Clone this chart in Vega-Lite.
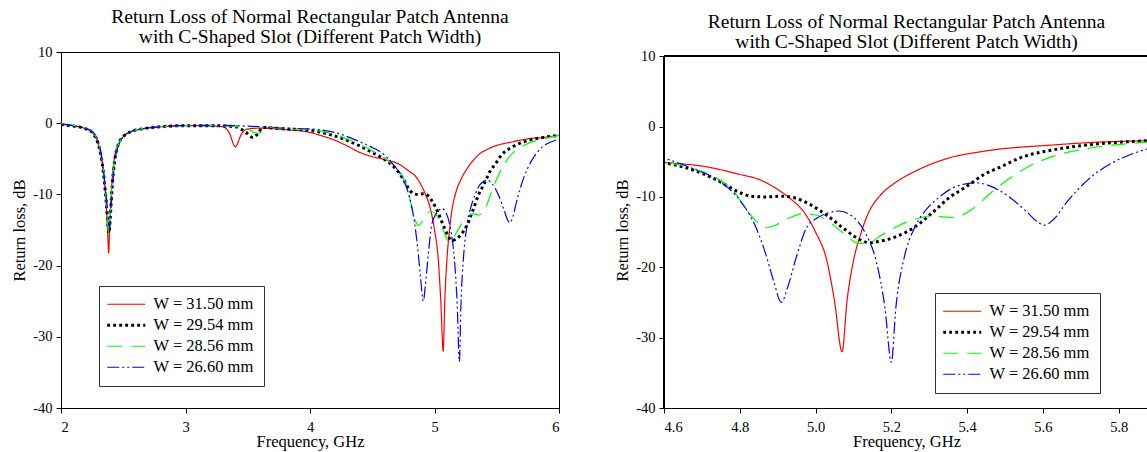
{
"$schema": "https://vega.github.io/schema/vega-lite/v6.json",
"padding": {"left": 11, "top": 6, "right": 0, "bottom": 0},
"background": "white",
"spacing": 54,
"config": {
  "font": "Liberation Serif",
  "view": {"stroke": "#000", "strokeWidth": 1},
  "style": {"guide-label": {"font": "Liberation Serif"}, "guide-title": {"font": "Liberation Serif"}},
  "axis": {"labelFont": "Liberation Serif", "labelFontSize": 14.5, "labelColor": "#000", "titleFont": "Liberation Serif", "titleFontSize": 16.5, "titleFontWeight": "normal", "titleColor": "#000", "domainColor": "#000", "tickColor": "#000", "tickSize": 5, "grid": false},
  "axisX": {"labelPadding": 7, "titlePadding": 0, "labelAngle": 0},
  "axisY": {"labelPadding": 4, "titlePadding": 5},
  "legend": {"labelFont": "Liberation Serif", "labelFontSize": 16.5, "labelColor": "#000", "strokeColor": "#333", "fillColor": "white", "padding": 10, "rowPadding": 4, "symbolType": "stroke", "symbolSize": 1444, "symbolOffset": 9, "labelOffset": 19, "labelLimit": 300, "title": null},
  "title": {"font": "Liberation Serif", "fontSize": 19.5, "fontWeight": "normal", "color": "#000", "lineHeight": 20, "anchor": "middle"}
},
"datasets": {"d": [
{"f":2.0,"r":-0.1,"s":"W = 31.50 mm"},{"f":2.1,"r":-0.35,"s":"W = 31.50 mm"},{"f":2.2,"r":-0.8,"s":"W = 31.50 mm"},{"f":2.26,"r":-1.5,"s":"W = 31.50 mm"},{"f":2.3,"r":-3.0,"s":"W = 31.50 mm"},{"f":2.33,"r":-5.5,"s":"W = 31.50 mm"},{"f":2.35,"r":-8.5,"s":"W = 31.50 mm"},{"f":2.365,"r":-12,"s":"W = 31.50 mm"},{"f":2.375,"r":-15.5,"s":"W = 31.50 mm"},{"f":2.383,"r":-18.2,"s":"W = 31.50 mm"},{"f":2.39,"r":-15,"s":"W = 31.50 mm"},{"f":2.4,"r":-11,"s":"W = 31.50 mm"},{"f":2.415,"r":-7,"s":"W = 31.50 mm"},{"f":2.43,"r":-4.8,"s":"W = 31.50 mm"},{"f":2.46,"r":-3.0,"s":"W = 31.50 mm"},{"f":2.5,"r":-1.9,"s":"W = 31.50 mm"},{"f":2.56,"r":-1.2,"s":"W = 31.50 mm"},{"f":2.65,"r":-0.8,"s":"W = 31.50 mm"},{"f":2.8,"r":-0.5,"s":"W = 31.50 mm"},{"f":3.0,"r":-0.35,"s":"W = 31.50 mm"},{"f":3.2,"r":-0.4,"s":"W = 31.50 mm"},{"f":3.3,"r":-0.5,"s":"W = 31.50 mm"},{"f":3.35,"r":-1.3,"s":"W = 31.50 mm"},{"f":3.4,"r":-3.3,"s":"W = 31.50 mm"},{"f":3.45,"r":-1.5,"s":"W = 31.50 mm"},{"f":3.5,"r":-0.8,"s":"W = 31.50 mm"},{"f":3.6,"r":-0.7,"s":"W = 31.50 mm"},{"f":3.8,"r":-0.9,"s":"W = 31.50 mm"},{"f":4.0,"r":-1.3,"s":"W = 31.50 mm"},{"f":4.1,"r":-1.8,"s":"W = 31.50 mm"},{"f":4.2,"r":-2.4,"s":"W = 31.50 mm"},{"f":4.3,"r":-3.2,"s":"W = 31.50 mm"},{"f":4.4,"r":-4.1,"s":"W = 31.50 mm"},{"f":4.5,"r":-4.7,"s":"W = 31.50 mm"},{"f":4.6,"r":-5.1,"s":"W = 31.50 mm"},{"f":4.71,"r":-5.7,"s":"W = 31.50 mm"},{"f":4.8,"r":-6.8,"s":"W = 31.50 mm"},{"f":4.85,"r":-7.5,"s":"W = 31.50 mm"},{"f":4.89,"r":-8.6,"s":"W = 31.50 mm"},{"f":4.93,"r":-10.1,"s":"W = 31.50 mm"},{"f":4.967,"r":-12,"s":"W = 31.50 mm"},{"f":5.0,"r":-15,"s":"W = 31.50 mm"},{"f":5.03,"r":-19.1,"s":"W = 31.50 mm"},{"f":5.05,"r":-24.8,"s":"W = 31.50 mm"},{"f":5.07,"r":-32,"s":"W = 31.50 mm"},{"f":5.083,"r":-24.8,"s":"W = 31.50 mm"},{"f":5.1,"r":-19.1,"s":"W = 31.50 mm"},{"f":5.119,"r":-15.3,"s":"W = 31.50 mm"},{"f":5.142,"r":-12,"s":"W = 31.50 mm"},{"f":5.169,"r":-9.9,"s":"W = 31.50 mm"},{"f":5.215,"r":-7.8,"s":"W = 31.50 mm"},{"f":5.261,"r":-6.4,"s":"W = 31.50 mm"},{"f":5.35,"r":-4.5,"s":"W = 31.50 mm"},{"f":5.445,"r":-3.5,"s":"W = 31.50 mm"},{"f":5.63,"r":-2.6,"s":"W = 31.50 mm"},{"f":5.75,"r":-2.2,"s":"W = 31.50 mm"},{"f":5.875,"r":-2.0,"s":"W = 31.50 mm"},{"f":6.0,"r":-1.7,"s":"W = 31.50 mm"},
{"f":2.0,"r":-0.2,"s":"W = 29.54 mm"},{"f":2.1,"r":-0.4,"s":"W = 29.54 mm"},{"f":2.2,"r":-0.8,"s":"W = 29.54 mm"},{"f":2.26,"r":-1.5,"s":"W = 29.54 mm"},{"f":2.3,"r":-3.0,"s":"W = 29.54 mm"},{"f":2.33,"r":-5.5,"s":"W = 29.54 mm"},{"f":2.35,"r":-8.5,"s":"W = 29.54 mm"},{"f":2.365,"r":-11.5,"s":"W = 29.54 mm"},{"f":2.378,"r":-14.5,"s":"W = 29.54 mm"},{"f":2.386,"r":-15.4,"s":"W = 29.54 mm"},{"f":2.395,"r":-13.5,"s":"W = 29.54 mm"},{"f":2.405,"r":-10.5,"s":"W = 29.54 mm"},{"f":2.42,"r":-7,"s":"W = 29.54 mm"},{"f":2.435,"r":-4.8,"s":"W = 29.54 mm"},{"f":2.46,"r":-3.0,"s":"W = 29.54 mm"},{"f":2.5,"r":-1.9,"s":"W = 29.54 mm"},{"f":2.56,"r":-1.2,"s":"W = 29.54 mm"},{"f":2.65,"r":-0.8,"s":"W = 29.54 mm"},{"f":2.8,"r":-0.5,"s":"W = 29.54 mm"},{"f":3.0,"r":-0.35,"s":"W = 29.54 mm"},{"f":3.2,"r":-0.35,"s":"W = 29.54 mm"},{"f":3.4,"r":-0.5,"s":"W = 29.54 mm"},{"f":3.48,"r":-1.2,"s":"W = 29.54 mm"},{"f":3.54,"r":-2.0,"s":"W = 29.54 mm"},{"f":3.58,"r":-1.5,"s":"W = 29.54 mm"},{"f":3.62,"r":-0.6,"s":"W = 29.54 mm"},{"f":3.8,"r":-0.8,"s":"W = 29.54 mm"},{"f":4.0,"r":-1.0,"s":"W = 29.54 mm"},{"f":4.2,"r":-1.8,"s":"W = 29.54 mm"},{"f":4.4,"r":-3.2,"s":"W = 29.54 mm"},{"f":4.5,"r":-4.1,"s":"W = 29.54 mm"},{"f":4.6,"r":-5.1,"s":"W = 29.54 mm"},{"f":4.673,"r":-6.1,"s":"W = 29.54 mm"},{"f":4.747,"r":-7.8,"s":"W = 29.54 mm"},{"f":4.793,"r":-9.2,"s":"W = 29.54 mm"},{"f":4.83,"r":-9.9,"s":"W = 29.54 mm"},{"f":4.866,"r":-10,"s":"W = 29.54 mm"},{"f":4.912,"r":-9.9,"s":"W = 29.54 mm"},{"f":4.949,"r":-10.2,"s":"W = 29.54 mm"},{"f":4.986,"r":-11.1,"s":"W = 29.54 mm"},{"f":5.032,"r":-12.7,"s":"W = 29.54 mm"},{"f":5.077,"r":-14.6,"s":"W = 29.54 mm"},{"f":5.114,"r":-16.0,"s":"W = 29.54 mm"},{"f":5.142,"r":-16.5,"s":"W = 29.54 mm"},{"f":5.169,"r":-16.3,"s":"W = 29.54 mm"},{"f":5.215,"r":-15.6,"s":"W = 29.54 mm"},{"f":5.261,"r":-14.3,"s":"W = 29.54 mm"},{"f":5.307,"r":-12.3,"s":"W = 29.54 mm"},{"f":5.353,"r":-10.1,"s":"W = 29.54 mm"},{"f":5.399,"r":-8.5,"s":"W = 29.54 mm"},{"f":5.445,"r":-6.8,"s":"W = 29.54 mm"},{"f":5.49,"r":-5.7,"s":"W = 29.54 mm"},{"f":5.537,"r":-4.5,"s":"W = 29.54 mm"},{"f":5.628,"r":-3.3,"s":"W = 29.54 mm"},{"f":5.72,"r":-2.6,"s":"W = 29.54 mm"},{"f":5.875,"r":-2.0,"s":"W = 29.54 mm"},{"f":6.0,"r":-1.7,"s":"W = 29.54 mm"},
{"f":2.0,"r":-0.1,"s":"W = 28.56 mm"},{"f":2.1,"r":-0.3,"s":"W = 28.56 mm"},{"f":2.2,"r":-0.7,"s":"W = 28.56 mm"},{"f":2.26,"r":-1.4,"s":"W = 28.56 mm"},{"f":2.3,"r":-2.8,"s":"W = 28.56 mm"},{"f":2.33,"r":-5.2,"s":"W = 28.56 mm"},{"f":2.35,"r":-8.2,"s":"W = 28.56 mm"},{"f":2.365,"r":-11.5,"s":"W = 28.56 mm"},{"f":2.375,"r":-14.2,"s":"W = 28.56 mm"},{"f":2.382,"r":-15.3,"s":"W = 28.56 mm"},{"f":2.39,"r":-14.2,"s":"W = 28.56 mm"},{"f":2.4,"r":-11.5,"s":"W = 28.56 mm"},{"f":2.415,"r":-7.5,"s":"W = 28.56 mm"},{"f":2.43,"r":-5,"s":"W = 28.56 mm"},{"f":2.46,"r":-3.0,"s":"W = 28.56 mm"},{"f":2.5,"r":-1.9,"s":"W = 28.56 mm"},{"f":2.56,"r":-1.2,"s":"W = 28.56 mm"},{"f":2.65,"r":-0.8,"s":"W = 28.56 mm"},{"f":2.8,"r":-0.5,"s":"W = 28.56 mm"},{"f":3.0,"r":-0.35,"s":"W = 28.56 mm"},{"f":3.2,"r":-0.35,"s":"W = 28.56 mm"},{"f":3.45,"r":-0.5,"s":"W = 28.56 mm"},{"f":3.5,"r":-0.8,"s":"W = 28.56 mm"},{"f":3.57,"r":-1.4,"s":"W = 28.56 mm"},{"f":3.62,"r":-1.2,"s":"W = 28.56 mm"},{"f":3.66,"r":-0.6,"s":"W = 28.56 mm"},{"f":3.8,"r":-0.8,"s":"W = 28.56 mm"},{"f":4.0,"r":-0.9,"s":"W = 28.56 mm"},{"f":4.2,"r":-1.6,"s":"W = 28.56 mm"},{"f":4.4,"r":-3.0,"s":"W = 28.56 mm"},{"f":4.5,"r":-3.9,"s":"W = 28.56 mm"},{"f":4.6,"r":-5.0,"s":"W = 28.56 mm"},{"f":4.673,"r":-5.9,"s":"W = 28.56 mm"},{"f":4.738,"r":-7.3,"s":"W = 28.56 mm"},{"f":4.784,"r":-9.2,"s":"W = 28.56 mm"},{"f":4.82,"r":-12,"s":"W = 28.56 mm"},{"f":4.848,"r":-13.7,"s":"W = 28.56 mm"},{"f":4.866,"r":-14.4,"s":"W = 28.56 mm"},{"f":4.894,"r":-14,"s":"W = 28.56 mm"},{"f":4.93,"r":-13,"s":"W = 28.56 mm"},{"f":4.967,"r":-12.4,"s":"W = 28.56 mm"},{"f":4.995,"r":-12.5,"s":"W = 28.56 mm"},{"f":5.032,"r":-13.4,"s":"W = 28.56 mm"},{"f":5.077,"r":-15.3,"s":"W = 28.56 mm"},{"f":5.114,"r":-16.6,"s":"W = 28.56 mm"},{"f":5.142,"r":-16.5,"s":"W = 28.56 mm"},{"f":5.169,"r":-15.6,"s":"W = 28.56 mm"},{"f":5.215,"r":-14.2,"s":"W = 28.56 mm"},{"f":5.261,"r":-13.2,"s":"W = 28.56 mm"},{"f":5.307,"r":-12.7,"s":"W = 28.56 mm"},{"f":5.353,"r":-12.9,"s":"W = 28.56 mm"},{"f":5.38,"r":-12.7,"s":"W = 28.56 mm"},{"f":5.417,"r":-11.6,"s":"W = 28.56 mm"},{"f":5.463,"r":-9.4,"s":"W = 28.56 mm"},{"f":5.509,"r":-7.5,"s":"W = 28.56 mm"},{"f":5.555,"r":-5.9,"s":"W = 28.56 mm"},{"f":5.628,"r":-4.2,"s":"W = 28.56 mm"},{"f":5.72,"r":-3.1,"s":"W = 28.56 mm"},{"f":5.875,"r":-2.2,"s":"W = 28.56 mm"},{"f":6.0,"r":-1.7,"s":"W = 28.56 mm"},
{"f":2.0,"r":-0.2,"s":"W = 26.60 mm"},{"f":2.05,"r":-0.2,"s":"W = 26.60 mm"},{"f":2.1,"r":-0.4,"s":"W = 26.60 mm"},{"f":2.2,"r":-0.7,"s":"W = 26.60 mm"},{"f":2.26,"r":-1.3,"s":"W = 26.60 mm"},{"f":2.3,"r":-2.6,"s":"W = 26.60 mm"},{"f":2.33,"r":-5,"s":"W = 26.60 mm"},{"f":2.35,"r":-8,"s":"W = 26.60 mm"},{"f":2.37,"r":-11.5,"s":"W = 26.60 mm"},{"f":2.383,"r":-14,"s":"W = 26.60 mm"},{"f":2.392,"r":-14.6,"s":"W = 26.60 mm"},{"f":2.4,"r":-12.5,"s":"W = 26.60 mm"},{"f":2.41,"r":-10,"s":"W = 26.60 mm"},{"f":2.425,"r":-6.5,"s":"W = 26.60 mm"},{"f":2.44,"r":-4.5,"s":"W = 26.60 mm"},{"f":2.47,"r":-2.8,"s":"W = 26.60 mm"},{"f":2.5,"r":-1.9,"s":"W = 26.60 mm"},{"f":2.56,"r":-1.2,"s":"W = 26.60 mm"},{"f":2.65,"r":-0.8,"s":"W = 26.60 mm"},{"f":2.8,"r":-0.5,"s":"W = 26.60 mm"},{"f":3.0,"r":-0.3,"s":"W = 26.60 mm"},{"f":3.2,"r":-0.3,"s":"W = 26.60 mm"},{"f":3.4,"r":-0.35,"s":"W = 26.60 mm"},{"f":3.6,"r":-0.5,"s":"W = 26.60 mm"},{"f":3.8,"r":-0.7,"s":"W = 26.60 mm"},{"f":4.0,"r":-0.8,"s":"W = 26.60 mm"},{"f":4.2,"r":-1.3,"s":"W = 26.60 mm"},{"f":4.4,"r":-2.6,"s":"W = 26.60 mm"},{"f":4.5,"r":-3.4,"s":"W = 26.60 mm"},{"f":4.6,"r":-4.5,"s":"W = 26.60 mm"},{"f":4.673,"r":-5.9,"s":"W = 26.60 mm"},{"f":4.747,"r":-7.8,"s":"W = 26.60 mm"},{"f":4.802,"r":-10.6,"s":"W = 26.60 mm"},{"f":4.839,"r":-13.9,"s":"W = 26.60 mm"},{"f":4.866,"r":-17.7,"s":"W = 26.60 mm"},{"f":4.889,"r":-21.9,"s":"W = 26.60 mm"},{"f":4.91,"r":-25,"s":"W = 26.60 mm"},{"f":4.926,"r":-22.9,"s":"W = 26.60 mm"},{"f":4.949,"r":-18.6,"s":"W = 26.60 mm"},{"f":4.976,"r":-14.4,"s":"W = 26.60 mm"},{"f":5.004,"r":-13,"s":"W = 26.60 mm"},{"f":5.032,"r":-12.3,"s":"W = 26.60 mm"},{"f":5.06,"r":-12,"s":"W = 26.60 mm"},{"f":5.096,"r":-12.7,"s":"W = 26.60 mm"},{"f":5.133,"r":-15.3,"s":"W = 26.60 mm"},{"f":5.16,"r":-19.1,"s":"W = 26.60 mm"},{"f":5.183,"r":-25.7,"s":"W = 26.60 mm"},{"f":5.2,"r":-33.5,"s":"W = 26.60 mm"},{"f":5.212,"r":-25.7,"s":"W = 26.60 mm"},{"f":5.234,"r":-18.6,"s":"W = 26.60 mm"},{"f":5.261,"r":-14.4,"s":"W = 26.60 mm"},{"f":5.289,"r":-12,"s":"W = 26.60 mm"},{"f":5.325,"r":-10.1,"s":"W = 26.60 mm"},{"f":5.371,"r":-8.5,"s":"W = 26.60 mm"},{"f":5.425,"r":-8.0,"s":"W = 26.60 mm"},{"f":5.463,"r":-8.5,"s":"W = 26.60 mm"},{"f":5.509,"r":-9.9,"s":"W = 26.60 mm"},{"f":5.555,"r":-12,"s":"W = 26.60 mm"},{"f":5.59,"r":-13.7,"s":"W = 26.60 mm"},{"f":5.605,"r":-14,"s":"W = 26.60 mm"},{"f":5.628,"r":-13.2,"s":"W = 26.60 mm"},{"f":5.665,"r":-10.6,"s":"W = 26.60 mm"},{"f":5.72,"r":-7.5,"s":"W = 26.60 mm"},{"f":5.775,"r":-5.4,"s":"W = 26.60 mm"},{"f":5.83,"r":-4.0,"s":"W = 26.60 mm"},{"f":5.875,"r":-3.2,"s":"W = 26.60 mm"},{"f":5.94,"r":-2.6,"s":"W = 26.60 mm"},{"f":6.0,"r":-2.2,"s":"W = 26.60 mm"}
]},
"resolve": {
  "scale": {"x": "independent", "y": "independent", "color": "independent", "strokeDash": "independent"},
  "legend": {"color": "independent", "strokeDash": "independent"}
},
"hconcat": [
  {
    "width": 498, "height": 356,
    "title": {"text": ["Return Loss of Normal Rectangular Patch Antenna", "with C-Shaped Slot (Different Patch Width)"], "offset": -3},
    "data": {"name": "d"},
    "mark": {"type": "line", "interpolate": "monotone", "clip": true, "strokeCap": "butt"},
    "encoding": {
      "x": {"field": "f", "type": "quantitative", "scale": {"domain": [2, 6], "nice": false}, "axis": {"title": "Frequency, GHz", "values": [2, 3, 4, 5, 6], "labelExpr": "datum.value + ''", "labelFont": "Liberation Serif", "titleFont": "Liberation Serif"}},
      "y": {"field": "r", "type": "quantitative", "scale": {"domain": [-40, 10], "nice": false}, "axis": {"title": "Return loss, dB", "values": [-40, -30, -20, -10, 0, 10], "labelExpr": "datum.value + ''", "labelFont": "Liberation Serif", "titleFont": "Liberation Serif"}},
      "color": {"field": "s", "type": "nominal", "scale": {"domain": ["W = 31.50 mm", "W = 29.54 mm", "W = 28.56 mm", "W = 26.60 mm"], "range": ["#ff0000", "#000000", "#00ff00", "#0000ff"]}, "legend": {"orient": "none", "legendX": 38, "legendY": 234, "labelFont": "Liberation Serif", "rowPadding": 4, "encode": {"symbols": {"update": {"strokeWidth": {"signal": "datum.value === 'W = 29.54 mm' ? 3 : 1.2"}}}}}},
      "strokeDash": {"field": "s", "type": "nominal", "scale": {"domain": ["W = 31.50 mm", "W = 29.54 mm", "W = 28.56 mm", "W = 26.60 mm"], "range": [[1, 0], [2.8, 3.2], [15, 9], [12, 3, 2, 3, 2, 3]]}, "legend": {"orient": "none", "legendX": 38, "legendY": 234, "labelFont": "Liberation Serif", "rowPadding": 4, "encode": {"symbols": {"update": {"strokeWidth": {"signal": "datum.value === 'W = 29.54 mm' ? 3 : 1.2"}}}}}},
      "strokeWidth": {"condition": {"test": "datum.s === 'W = 29.54 mm'", "value": 3}, "value": 1.2}
    }
  },
  {
    "width": 485, "height": 356,
    "title": {"text": ["Return Loss of Normal Rectangular Patch Antenna", "with C-Shaped Slot (Different Patch Width)"], "offset": -4},
    "data": {"name": "d"},
    "view": {"stroke": null},
    "layer": [
      {
        "mark": {"type": "line", "interpolate": "monotone", "clip": true, "strokeCap": "butt"},
        "encoding": {
          "x": {"field": "f", "type": "quantitative", "scale": {"domain": [4.6, 5.88], "nice": false}, "axis": {"title": "Frequency, GHz", "values": [4.6, 4.8, 5.0, 5.2, 5.4, 5.6, 5.8], "format": ".1f", "labelFont": "Liberation Serif", "titleFont": "Liberation Serif"}},
          "y": {"field": "r", "type": "quantitative", "scale": {"domain": [-40, 10.6], "nice": false}, "axis": {"title": "Return loss, dB", "values": [-40, -30, -20, -10, 0, 10], "labelExpr": "datum.value + ''", "domain": false, "labelFont": "Liberation Serif", "titleFont": "Liberation Serif"}},
          "color": {"field": "s", "type": "nominal", "scale": {"domain": ["W = 31.50 mm", "W = 29.54 mm", "W = 28.56 mm", "W = 26.60 mm"], "range": ["#ff0000", "#000000", "#00ff00", "#0000ff"]}, "legend": {"orient": "none", "legendX": 271, "legendY": 241, "labelFont": "Liberation Serif", "rowPadding": 4, "encode": {"symbols": {"update": {"strokeWidth": {"signal": "datum.value === 'W = 29.54 mm' ? 3 : 1.2"}}}}}},
          "strokeDash": {"field": "s", "type": "nominal", "scale": {"domain": ["W = 31.50 mm", "W = 29.54 mm", "W = 28.56 mm", "W = 26.60 mm"], "range": [[1, 0], [2.8, 3.2], [15, 9], [12, 3, 2, 3, 2, 3]]}, "legend": {"orient": "none", "legendX": 271, "legendY": 241, "labelFont": "Liberation Serif", "rowPadding": 4, "encode": {"symbols": {"update": {"strokeWidth": {"signal": "datum.value === 'W = 29.54 mm' ? 3 : 1.2"}}}}}},
          "strokeWidth": {"condition": {"test": "datum.s === 'W = 29.54 mm'", "value": 3}, "value": 1.2}
        }
      },
      {
        "mark": {"type": "rule", "color": "#000", "strokeWidth": 1},
        "encoding": {"y": {"datum": 10}}
      },
      {
        "mark": {"type": "rule", "color": "#000", "strokeWidth": 1},
        "encoding": {"x": {"datum": 4.6}, "y": {"datum": -40}, "y2": {"datum": 10}}
      }
    ]
  }
]
}
